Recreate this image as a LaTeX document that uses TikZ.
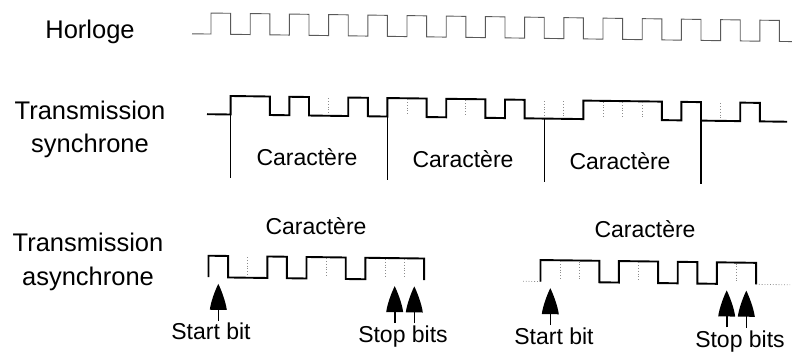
\documentclass[tikz,border=0pt]{standalone}
\usepackage{fontspec}
\setmainfont{Liberation Sans}
\usetikzlibrary{arrows.meta}
\begin{document}
\begin{tikzpicture}[x=1pt,y=-1pt,
  lbl/.style={inner sep=0pt,anchor=base,font=\fontsize{25.5}{30}\selectfont},
  txt/.style={inner sep=0pt,anchor=base,font=\fontsize{23}{27}\selectfont},
  clk/.style={draw=black!65,line width=0.9pt,line join=miter},
  sig/.style={draw=black,line width=1.9pt,line join=miter},
  sep/.style={draw=black,line width=1.3pt},
  dots/.style={draw=black!45,line width=0.8pt,dotted},
  stem/.style={draw=black,line width=1.6pt},
  head/.style={fill=black}]
\useasboundingbox (0,0) rectangle (792,354);
\def\b{19.6}
\newcommand\myhead[1]{\fill[head] (#1) .. controls +(-3,6) and +(1,-8) .. ++(-8.5,26) -- ++(17,0) .. controls +(-1,-8) and +(3,6) .. (#1) -- cycle;}
\begin{scope}[yslant=-0.013]
% ---------- labels ----------
\node[lbl] (hor) at (90,37.5) {Horloge};
\node[lbl] (ts1) at (90,118.8) {Transmission};
\node[lbl] (ts2) at (90,151.8) {synchrone};
\node[lbl] (ta1) at (88,250.8) {Transmission};
\node[lbl] (ta2) at (88,284.8) {asynchrone};
% ---------- clock ----------
\draw[clk] (192,31.3) -- (211,31.3)
  \foreach \k in {0,...,14} { -- ++(0,-21) -- ++(\b,0) -- ++(0,21) -- ++(\b,0) } -- (792,31.3);
% ---------- synchronous ----------
\def\dd{18.5}
\draw[sig] (207,111.5) -- (230.6,111.5)
  -- ++(0,-\dd) -- ++(2*\b,0) -- ++(0,\dd) -- ++(\b,0) -- ++(0,-\dd) -- ++(\b,0)
  -- ++(0,\dd) -- ++(2*\b,0) -- ++(0,-\dd) -- ++(\b,0) -- ++(0,\dd) -- ++(\b,0)
  -- ++(0,-\dd) -- ++(2*\b,0) -- ++(0,\dd) -- ++(\b,0) -- ++(0,-\dd) -- ++(2*\b,0)
  -- ++(0,\dd) -- ++(\b,0) -- ++(0,-\dd) -- ++(\b,0) -- ++(0,\dd) -- ++(\b,0)
  -- ++(2*\b,0) -- ++(0,-\dd) -- ++(4*\b,0) -- ++(0,\dd) -- ++(\b,0)
  -- ++(0,-\dd) -- ++(\b,0) -- ++(0,\dd) -- ++(2*\b,0) -- ++(0,-\dd) -- ++(\b,0)
  -- ++(0,\dd) -- (787,111.5);
\coordinate (s0) at (230.6,93);   \coordinate (s0b) at (230.6,175);
\coordinate (s1) at (387.4,93);   \coordinate (s1b) at (387.4,175);
\coordinate (s2) at (544.2,111.5);\coordinate (s2b) at (544.2,175);
\coordinate (s3) at (701,93);     \coordinate (s3b) at (701,175);
\draw[sep] (s0) -- (s0b);
\draw[sep] (s1) -- (s1b);
\draw[sep] (s2) -- (s2b);
\draw[sep] (s3) -- (s3b);
\foreach \x in {328.6,407,465.8,544.2,563.8,603,622.6,642.2,720.6}
  \draw[dots] (\x,94) -- (\x,110.5);
\node[txt] (c1) at (307,161.5) {Caractère};
\node[txt] (c2) at (463,161.5) {Caractère};
\node[txt] (c3) at (620,161.5) {Caractère};
% ---------- asynchronous left ----------
\def\ad{21.5}
\def\xa{208.5}
\draw[sig] (\xa,274.5) -- ++(0,-\ad) -- ++(\b,0) -- ++(0,\ad) -- ++(2*\b,0)
  -- ++(0,-\ad) -- ++(\b,0) -- ++(0,\ad) -- ++(\b,0) -- ++(0,-\ad) -- ++(2*\b,0)
  -- ++(0,\ad) -- ++(\b,0) -- ++(0,-\ad) -- ++(3*\b,0) -- ++(0,\ad);
\foreach \k in {2,6,9,10}
  \draw[dots] ({\xa+\k*\b},254) -- ({\xa+\k*\b},273.5);
\node[txt] (ca1) at (316,230) {Caractère};
\foreach \n/\k in {sa1/0.5,pa1/9.5,pa2/10.5} {
  \coordinate (\n) at ({\xa+\k*\b},318);
  \coordinate (\n m) at ({\xa+\k*\b},300);
  \coordinate (\n t) at ({\xa+\k*\b},281);
}
\draw[stem] (sa1) -- (sa1m); \myhead{sa1t}
\draw[stem] (pa1) -- (pa1m); \myhead{pa1t}
\draw[stem] (pa2) -- (pa2m); \myhead{pa2t}
\node[txt] (st1) at (211,337) {Start bit};
\node[txt] (sp1) at (403,337) {Stop bits};
% ---------- asynchronous right ----------
\def\xb{540.5}
\draw[dots] (523,274.5) -- (\xb,274.5);
\draw[sig] (\xb,274.5) -- ++(0,-\ad) -- ++(3*\b,0) -- ++(0,\ad) -- ++(\b,0)
  -- ++(0,-\ad) -- ++(2*\b,0) -- ++(0,\ad) -- ++(\b,0) -- ++(0,-\ad) -- ++(\b,0)
  -- ++(0,\ad) -- ++(\b,0) -- ++(0,-\ad) -- ++(2*\b,0) -- ++(0,\ad);
\draw[dots] ({\xb+11*\b},274.5) -- (790,274.5);
\foreach \k in {1,2,5,10}
  \draw[dots] ({\xb+\k*\b},254) -- ({\xb+\k*\b},273.5);
\node[txt] (ca2) at (645,229) {Caractère};
\foreach \n/\k in {sb1/0.5,pb1/9.5,pb2/10.5} {
  \coordinate (\n) at ({\xb+\k*\b},318);
  \coordinate (\n m) at ({\xb+\k*\b},300);
  \coordinate (\n t) at ({\xb+\k*\b},281);
}
\draw[stem] (sb1) -- (sb1m); \myhead{sb1t}
\draw[stem] (pb1) -- (pb1m); \myhead{pb1t}
\draw[stem] (pb2) -- (pb2m); \myhead{pb2t}
\node[txt] (st2) at (554,337.5) {Start bit};
\node[txt] (sp2) at (740,337.5) {Stop bits};
\end{scope}
\end{tikzpicture}
\end{document}
